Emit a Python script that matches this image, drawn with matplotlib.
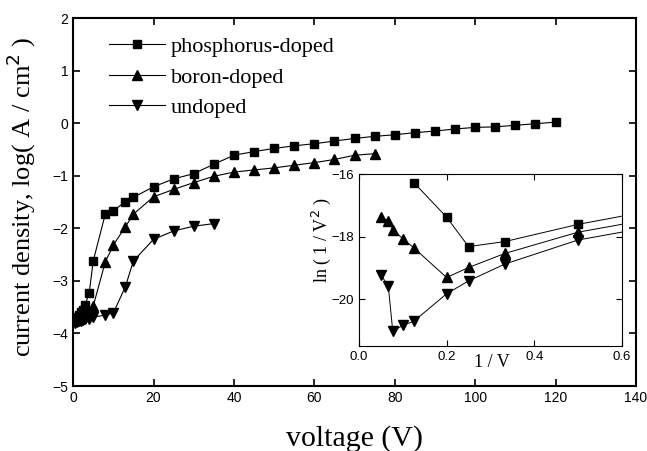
import matplotlib.pyplot as plt

serif = 'Liberation Serif'
sans = 'Liberation Sans'
plt.rcParams['font.family'] = sans

# main plot: current density vs voltage
v_p = [0.5, 1, 1.5, 2, 2.5, 3, 4, 5, 8, 10, 13, 15, 20, 25, 30, 35, 40, 45, 50, 55,
       60, 65, 70, 75, 80, 85, 90, 95, 100, 105, 110, 115, 120]
j_p = [-3.72, -3.68, -3.65, -3.6, -3.55, -3.45, -3.23, -2.62, -1.73, -1.67, -1.49, -1.41,
       -1.21, -1.06, -0.96, -0.78, -0.61, -0.54, -0.48, -0.43, -0.39, -0.34, -0.29, -0.25,
       -0.22, -0.18, -0.15, -0.11, -0.08, -0.07, -0.04, -0.01, 0.02]

v_b = [0.5, 1, 1.5, 2, 2.5, 3, 4, 5, 8, 10, 13, 15, 20, 25, 30, 35, 40, 45, 50, 55,
       60, 65, 70, 75]
j_b = [-3.75, -3.72, -3.7, -3.68, -3.65, -3.62, -3.57, -3.48, -2.64, -2.32, -1.97, -1.73,
       -1.40, -1.26, -1.13, -1.01, -0.93, -0.89, -0.85, -0.80, -0.75, -0.69, -0.61, -0.58]

v_u = [0.5, 1, 1.5, 2, 2.5, 3, 4, 5, 8, 10, 13, 15, 20, 25, 30, 35]
j_u = [-3.8, -3.78, -3.77, -3.76, -3.75, -3.73, -3.72, -3.69, -3.65, -3.61, -3.11, -2.62,
       -2.21, -2.05, -1.96, -1.91]

# inset: ln(1/V^2) vs 1/V
iv_p = [0.125, 0.2, 0.25, 0.333, 0.5, 1.0]
ln_p = [-16.27, -17.38, -18.32, -18.16, -17.61, -16.3]
iv_b = [0.05, 0.0667, 0.0769, 0.1, 0.125, 0.2, 0.25, 0.333, 0.5, 1.0]
ln_b = [-17.36, -17.5, -17.78, -18.07, -18.36, -19.31, -18.99, -18.54, -17.86, -16.6]
iv_u = [0.05, 0.0667, 0.0769, 0.1, 0.125, 0.2, 0.25, 0.333, 0.5, 1.0]
ln_u = [-19.23, -19.58, -21.03, -20.84, -20.71, -19.83, -19.42, -18.88, -18.11, -16.85]

fig = plt.figure(figsize=(6.47, 4.51), dpi=100)
ax = fig.add_axes([0.113, 0.144, 0.870, 0.816])

ax.plot(v_p, j_p, 'k-', marker='s', ms=6, lw=0.8, label='phosphorus-doped')
ax.plot(v_b, j_b, 'k-', marker='^', ms=7, lw=0.8, label='boron-doped')
ax.plot(v_u, j_u, 'k-', marker='v', ms=7, lw=0.8, label='undoped')

ax.set_xlim(0, 140)
ax.set_ylim(-5, 2)
ax.set_xticks(range(0, 141, 20))
ax.set_yticks(range(-5, 3))
ax.tick_params(direction='in', top=True, right=True, length=5, width=1.2, labelsize=10)
for s in ax.spines.values():
    s.set_linewidth(1.5)
ax.set_xlabel('voltage (V)', family=serif, fontsize=21.5)
ax.xaxis.set_label_coords(0.5, -0.105)
ax.set_ylabel('current density, log( A / cm$^2$ )', family=serif, fontsize=19)
ax.yaxis.set_label_coords(-0.062, 0.514)
ax.legend(loc='upper left', frameon=False, prop={'family': serif, 'size': 16},
          handlelength=2.5, handletextpad=0.25, labelspacing=0.45,
          bbox_to_anchor=(0.029, 1.004))

ins = fig.add_axes([0.555, 0.233, 0.406, 0.381])
ins.plot(iv_p, ln_p, 'k-', marker='s', ms=6, lw=0.7)
ins.plot(iv_b, ln_b, 'k-', marker='^', ms=7, lw=0.7)
ins.plot(iv_u, ln_u, 'k-', marker='v', ms=7, lw=0.7)
ins.set_xlim(0, 0.6)
ins.set_ylim(-21.5, -16)
ins.set_xticks([0.0, 0.2, 0.4, 0.6])
ins.set_yticks([-16, -18, -20])
ins.tick_params(direction='in', top=True, right=True, length=4, labelsize=9.5)
ins.set_xlabel('1 / V', family=serif, fontsize=13)
ins.xaxis.set_label_coords(0.506, -0.045)
ins.set_ylabel('ln ( 1 / V$^2$ )', family=serif, fontsize=13)
ins.yaxis.set_label_coords(-0.1, 0.616)

fig.savefig('out.png', dpi=100)
